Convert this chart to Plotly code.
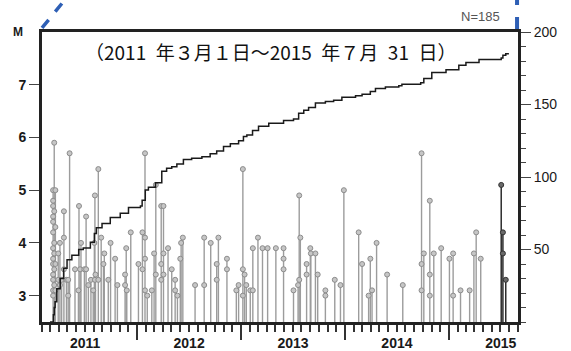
import plotly.graph_objects as go

# ---------------- data ----------------
# event dates (one stem per date) and magnitudes of events on that date
event_dates = [
    "2011-03-12", "2011-03-16", "2011-03-20", "2011-03-30", "2011-04-05", "2011-04-11",
    "2011-04-19", "2011-04-28", "2011-05-04", "2011-05-09", "2011-05-28", "2011-06-09",
    "2011-06-11", "2011-06-15", "2011-06-18", "2011-06-30", "2011-07-06", "2011-07-14",
    "2011-07-23", "2011-07-31", "2011-08-04", "2011-08-06", "2011-08-08", "2011-08-18",
    "2011-08-28", "2011-09-05", "2011-09-08", "2011-09-22", "2011-09-30", "2011-10-16",
    "2011-10-24", "2011-11-20", "2011-11-24", "2011-11-26", "2011-12-10", "2012-01-06",
    "2012-01-20", "2012-01-29", "2012-02-06", "2012-02-22", "2012-03-01", "2012-03-07",
    "2012-03-26", "2012-04-03", "2012-04-19", "2012-05-02", "2012-05-14", "2012-05-22",
    "2012-06-01", "2012-06-04", "2012-06-10", "2012-07-23", "2012-08-24", "2012-09-16",
    "2012-10-07", "2012-10-13", "2012-11-12", "2012-12-15", "2012-12-23", "2013-01-07",
    "2013-01-13", "2013-01-19", "2013-02-02", "2013-02-11", "2013-03-01", "2013-03-17",
    "2013-04-04", "2013-05-03", "2013-05-30", "2013-07-04", "2013-07-20", "2013-07-24",
    "2013-07-28", "2013-08-19", "2013-09-01", "2013-09-03", "2013-09-19", "2013-09-27",
    "2013-10-24", "2013-11-26", "2013-12-16", "2013-12-28", "2014-02-18", "2014-03-02",
    "2014-03-25", "2014-03-31", "2014-04-06", "2014-04-22", "2014-05-29", "2014-07-23",
    "2014-09-27", "2014-10-05", "2014-10-26", "2014-11-09", "2014-12-05", "2015-01-03",
    "2015-01-16", "2015-02-11", "2015-03-15", "2015-03-30", "2015-04-07", "2015-04-23",
    "2015-07-04", "2015-07-10", "2015-07-20",
]
event_mags = [
    [5.0, 4.8, 4.7, 4.5, 4.4, 4.2, 3.9, 3.7, 3.6, 3.4, 3.3, 3.1, 3.0],
    [5.9, 4.6, 4.0, 3.8, 3.5, 3.2], [5.0, 4.3, 3.6, 3.1], [3.8, 3.3], [4.0, 3.2], [3.3],
    [4.6, 4.1, 3.5], [3.3], [3.3, 3.0], [5.7], [3.5], [3.1],
    [4.7], [3.5], [4.0], [3.5], [4.5, 3.5], [3.2],
    [3.3], [3.1], [4.0], [4.9, 3.3], [3.4], [5.4, 3.3],
    [4.1], [3.6], [3.8], [3.3], [4.0], [3.7],
    [3.2], [3.4, 3.2], [3.9], [3.1], [4.2], [3.6],
    [4.2, 3.5], [5.7, 4.1, 3.7, 3.1], [3.0], [3.1], [3.8], [5.1, 3.4],
    [4.7, 3.6, 3.3], [4.7, 3.8, 3.4], [3.9], [3.5], [3.3, 3.1], [3.0],
    [3.7], [4.0], [4.1], [3.2], [4.1, 3.2], [4.0],
    [3.6, 3.3], [4.1], [3.7, 3.5], [3.1], [3.2], [5.4, 3.5, 3.0],
    [3.4], [3.2], [3.1], [3.9, 3.1], [4.1], [3.9],
    [3.9], [3.9], [3.9, 3.7, 3.5], [3.1], [3.2], [4.9, 3.3],
    [4.1], [3.6, 3.4], [3.9], [3.8], [3.8], [3.4],
    [3.1, 3.0], [3.3], [3.2], [5.0], [4.2], [3.6],
    [3.0], [3.7], [3.1], [4.0], [3.4], [3.2],
    [5.7, 3.6, 3.1], [3.8], [4.8, 3.4, 3.0], [3.8], [3.9], [3.7],
    [3.8, 3.0], [3.1], [3.1], [3.8], [4.2], [3.7],
    [5.1], [4.2, 3.8], [3.3],
]
recent_start = "2015-07-01"  # events of the latest month drawn in black

# cumulative number of events (right axis)
cum_dates = [
    "2011-03-01", "2011-03-13", "2011-03-16", "2011-03-19", "2011-03-25", "2011-04-06",
    "2011-04-18", "2011-04-30", "2011-05-17", "2011-06-10", "2011-06-26", "2011-07-21",
    "2011-08-04", "2011-08-11", "2011-08-31", "2011-09-29", "2011-11-03", "2011-12-02",
    "2012-01-13", "2012-01-19", "2012-01-30", "2012-02-10", "2012-03-06", "2012-03-28",
    "2012-04-14", "2012-05-02", "2012-05-20", "2012-06-12", "2012-07-11", "2012-08-16",
    "2012-09-14", "2012-10-07", "2012-10-31", "2012-11-24", "2012-12-23", "2013-01-09",
    "2013-01-21", "2013-02-10", "2013-03-03", "2013-04-08", "2013-05-30", "2013-07-04",
    "2013-07-22", "2013-08-09", "2013-08-26", "2013-09-19", "2013-10-24", "2013-11-22",
    "2013-12-21", "2014-02-07", "2014-03-02", "2014-03-31", "2014-04-18", "2014-05-23",
    "2014-07-09", "2014-07-20", "2014-09-24", "2014-10-05", "2014-11-02", "2014-12-22",
    "2015-02-05", "2015-03-02", "2015-04-17", "2015-07-04", "2015-07-10", "2015-07-20",
    "2015-07-31",
]
cum_counts = [
    0, 5, 10, 14, 23, 30,
    37, 43, 46, 50, 51, 55,
    61, 65, 68, 72, 75, 79,
    80, 84, 91, 93, 96, 104,
    106, 107, 109, 112, 113, 114,
    116, 118, 121, 123, 125, 128,
    129, 132, 135, 137, 139, 140,
    144, 146, 148, 151, 152, 153,
    155, 156, 157, 159, 161, 162,
    163, 164, 165, 168, 172, 174,
    177, 179, 181, 182, 184, 185,
    185,
]

mag_ticks = [3, 4, 5, 6, 7]
count_ticks = [50, 100, 150, 200]
title_text = "（2011\u2002年３月１日～2015\u2002年７月\u200231\u2002日）"
n_text = "N=185"

# ---------------- figure ----------------
M_BASE = 2.5
fig = go.Figure()

def stems(sel):
    xs, ys, mx, my = [], [], [], []
    for d, ms in zip(event_dates, event_mags):
        if not sel(d):
            continue
        xs += [d, d, None]
        ys += [M_BASE, max(ms), None]
        for m in ms:
            mx.append(d)
            my.append(m)
    return xs, ys, mx, my

for sel, lc, mfill, mline in [
    (lambda d: d < recent_start, "#9c9c9c", "#c6c6c6", "#8c8c8c"),
    (lambda d: d >= recent_start, "#1e1e1e", "#6a6a6a", "#333333"),
]:
    xs, ys, mx, my = stems(sel)
    fig.add_trace(go.Scatter(x=xs, y=ys, mode="lines",
                             line=dict(color=lc, width=1.4),
                             hoverinfo="skip", showlegend=False))
    fig.add_trace(go.Scatter(x=mx, y=my, mode="markers",
                             marker=dict(symbol="circle", size=5, color=mfill,
                                         line=dict(color=mline, width=1)),
                             showlegend=False))

fig.add_trace(go.Scatter(x=cum_dates, y=cum_counts, mode="lines", yaxis="y2",
                         line=dict(color="#1a1a1a", width=1.5, shape="hv"),
                         showlegend=False))

axis_font = dict(family="Liberation Sans, Arial, sans-serif", size=14, color="#1a1a1a")

fig.update_layout(
    width=571, height=351,
    margin=dict(l=42, r=53, t=32, b=29, autoexpand=False),
    paper_bgcolor="white", plot_bgcolor="white",
    xaxis=dict(
        type="date", range=["2011-02-01", "2015-09-01"],
        tick0="2011-01-01", dtick="M12", tickformat="%Y", ticklabelmode="period",
        ticks="outside", ticklen=15, tickwidth=1.5, tickcolor="#333",
        ticklabelstandoff=-9,
        showline=True, linewidth=3, linecolor="#222", mirror=True,
        showgrid=False, zeroline=False, automargin=False,
        tickfont=dict(axis_font, weight="bold"),
        minor=dict(dtick="M1", tick0="2011-01-01", ticks="outside", ticklen=7,
                   tickwidth=1.5, tickcolor="#333", showgrid=False),
    ),
    yaxis=dict(
        range=[M_BASE, 8], tickvals=mag_ticks,
        ticks="outside", ticklen=10, tickwidth=1.2, tickcolor="#444",
        showline=True, linewidth=3, linecolor="#222", mirror=True,
        showgrid=False, zeroline=False, automargin=False,
        tickfont=dict(axis_font, weight="bold"),
    ),
    yaxis2=dict(
        overlaying="y", side="right", range=[0, 200], tickvals=count_ticks,
        ticks="outside", ticklen=10, tickwidth=1.2, tickcolor="#444",
        showline=True, linewidth=3, linecolor="#222",
        showgrid=False, zeroline=False, automargin=False,
        tickfont=axis_font,
        minor=dict(dtick=10, tick0=0, ticks="outside", ticklen=5,
                   tickwidth=1.2, tickcolor="#444", showgrid=False),
    ),
    annotations=[
        dict(text="M", xref="paper", yref="paper", x=-0.05, y=1.0,
             xanchor="center", yanchor="middle", showarrow=False,
             font=dict(family="Liberation Sans, Arial", size=12, color="#1a1a1a", weight="bold")),
        dict(text=title_text, xref="paper", yref="paper", x=0.481, y=0.934,
             xanchor="center", yanchor="middle", showarrow=False,
             font=dict(family="Noto Sans CJK JP", size=19, color="#111")),
        dict(text=n_text, xref="paper", yref="paper", x=0.966, y=1.052,
             xanchor="right", yanchor="middle", showarrow=False,
             font=dict(family="Liberation Sans, Arial", size=13, color="#555")),
    ],
    shapes=[
        dict(type="line", xref="paper", yref="paper", x0=0.0, y0=1.014, x1=0.05, y1=1.115,
             line=dict(color="#2e5fb5", width=3.5, dash="dash")),
        dict(type="line", xref="paper", yref="paper", x0=0.998, y0=1.01, x1=0.998, y1=1.115,
             line=dict(color="#2e5fb5", width=4, dash="dash")),
    ],
)

fig.write_html("out.html")
